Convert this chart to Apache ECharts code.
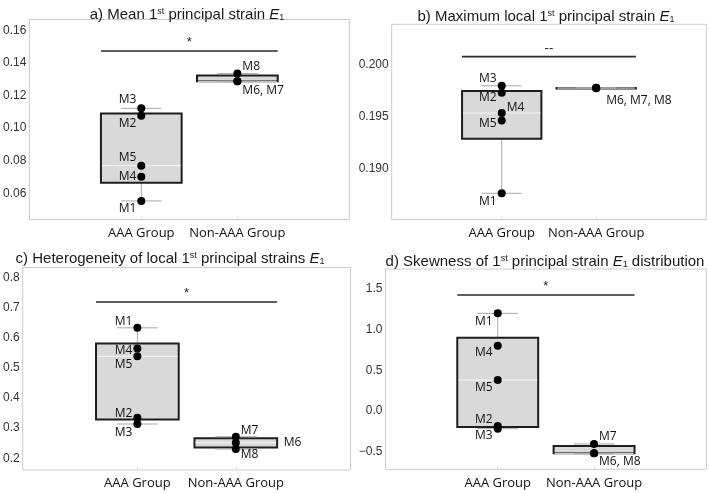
<!DOCTYPE html>
<html><head><meta charset="utf-8">
<script src="https://cdn.jsdelivr.net/npm/echarts@6/dist/echarts.min.js"></script>
<style>html,body{margin:0;padding:0;background:#fff}#c{width:709px;height:493px}</style>
</head><body><div id="c"></div>
<script>
// ---------- data ----------
const groups = ['AAA Group', 'Non-AAA Group'];
const modelsAAA = ['M1', 'M2', 'M3', 'M4', 'M5'];
const modelsNon = ['M6', 'M7', 'M8'];

// a) Mean 1st principal strain
const aAAA = [0.0553, 0.1076, 0.1121, 0.0702, 0.0769];
const aNon = [0.1287, 0.1287, 0.1334];
const aBoxAAA = [0.0553, 0.0665, 0.0769, 0.1089, 0.1121];   // min, Q1, median, Q3, max
const aBoxNon = [0.1287, 0.1287, 0.1287, 0.1322, 0.1334];
const aSig = 0.1473, aSigText = '*';
const aTicks = [0.06, 0.08, 0.10, 0.12, 0.14, 0.16];

// b) Maximum local 1st principal strain
const bAAA = [0.18766, 0.19734, 0.1980, 0.19538, 0.19465];
const bNon = [0.19776, 0.19778, 0.19780];
const bBoxAAA = [0.18766, 0.1929, 0.19538, 0.1975, 0.1980];
const bBoxNon = [0.19776, 0.19777, 0.19778, 0.19779, 0.19780];
const bSig = 0.2008, bSigText = '--';
const bTicks = [0.190, 0.195, 0.200];

// c) Heterogeneity of local 1st principal strains
const cAAA = [0.633, 0.3347, 0.3138, 0.564, 0.5385];
const cNon = [0.2517, 0.2716, 0.2308];
const cBoxAAA = [0.3138, 0.329, 0.5385, 0.581, 0.633];
const cBoxNon = [0.2308, 0.2360, 0.2517, 0.2666, 0.2716];
const cSig = 0.7187, cSigText = '*';
const cTicks = [0.2, 0.3, 0.4, 0.5, 0.6, 0.7, 0.8];

// d) Skewness of 1st principal strain distribution
const dAAA = [1.201, -0.184, -0.217, 0.803, 0.381];
const dNon = [-0.520, -0.405, -0.520];
const dBoxAAA = [-0.217, -0.197, 0.381, 0.902, 1.201];
const dBoxNon = [-0.520, -0.520, -0.520, -0.430, -0.405];
const dSig = 1.426, dSigText = '*';
const dTicks = [-0.5, 0.0, 0.5, 1.0, 1.5];

// ---------- label placement (style only) ----------
// [text, side, dx, dy]
const aLabAAA = [['M1','left',0,8],['M2','left',0,8],['M3','left',0,-9],['M4','left',0,0],['M5','left',0,-8]];
const aLabNon = [['M6, M7','right',0,9],['','right',0,0],['M8','right',0,-7]];
const bLabAAA = [['M1','left',0,8],['M2','left',0,5],['M3','left',0,-7],['M4','right',0,-5],['M5','left',0,3]];
const bLabNon = [['M6, M7, M8','right',5,12],['','right',0,0],['','right',0,0]];
const cLabAAA = [['M1','left',0,-6],['M2','left',0,-4],['M3','left',0,9],['M4','left',0,2],['M5','left',0,8]];
const cLabNon = [['M6','right',43,0],['M7','right',0,-6],['M8','right',0,6]];
const dLabAAA = [['M1','left',0,8],['M2','left',0,-6],['M3','left',0,7],['M4','left',0,7],['M5','left',0,8]];
const dLabNon = [['M6, M8','right',0,8],['M7','right',0,-7],['','right',0,0]];

// ---------- layout ----------
const SANS = '"Liberation Sans", Arial, sans-serif';
const OPEN = '"Open Sans", "Noto Sans", sans-serif';
const panels = [
  { title: 'a) Mean 1{sup|st} principal strain {it|E}{sub|1}', tx: 182, ty: 2,
    grid: {left: 25.7, top: 19.5, width: 323.6, height: 200},
    ymin: 0.0439, ymax: 0.1666, ticks: aTicks, dec: 2,
    AAA: aAAA, Non: aNon, boxA: aBoxAAA, boxN: aBoxNon, sig: aSig, sigText: aSigText, labA: aLabAAA, labN: aLabNon },
  { title: 'b) Maximum local 1{sup|st} principal strain {it|E}{sub|1}', tx: 541, ty: 4,
    grid: {left: 391.7, top: 24.3, width: 314.5, height: 195.2},
    ymin: 0.18514, ymax: 0.20391, ticks: bTicks, dec: 3,
    AAA: bAAA, Non: bNon, boxA: bBoxAAA, boxN: bBoxNon, sig: bSig, sigText: bSigText, labA: bLabAAA, labN: bLabNon },
  { title: 'c) Heterogeneity of local 1{sup|st} principal strains {it|E}{sub|1}', tx: 165, ty: 246,
    grid: {left: 22, top: 267.5, width: 328.5, height: 202.5},
    ymin: 0.1612, ymax: 0.8332, ticks: cTicks, dec: 1,
    AAA: cAAA, Non: cNon, boxA: cBoxAAA, boxN: cBoxNon, sig: cSig, sigText: cSigText, labA: cLabAAA, labN: cLabNon },
  { title: 'd) Skewness of 1{sup|st} principal strain {it|E}{sub|1} distribution', tx: 540, ty: 249,
    grid: {left: 385.5, top: 269, width: 320.8, height: 200.3},
    ymin: -0.7163, ymax: 1.746, ticks: dTicks, dec: 1,
    AAA: dAAA, Non: dNon, boxA: dBoxAAA, boxN: dBoxNon, sig: dSig, sigText: dSigText, labA: dLabAAA, labN: dLabNon }
];

const HW = 0.42, CW = 0.21;
function renderBox(params, api) {
  const x = api.value(0);
  const mn = api.value(1), q1 = api.value(2), md = api.value(3), q3 = api.value(4), mx = api.value(5);
  const tl = api.coord([x - HW, q3]), br = api.coord([x + HW, q1]);
  const pMax = api.coord([x, mx]), pMin = api.coord([x, mn]);
  const pQ3 = api.coord([x, q3]), pQ1 = api.coord([x, q1]);
  const pMed = api.coord([x, md]);
  const cl = api.coord([x - CW, mx])[0], cr = api.coord([x + CW, mx])[0];
  const grey = {stroke: '#a8a8a8', lineWidth: 1};
  return {type: 'group', children: [
    {type: 'line', shape: {x1: pMax[0], y1: pMax[1], x2: pQ3[0], y2: pQ3[1]}, style: grey},
    {type: 'line', shape: {x1: pQ1[0], y1: pQ1[1], x2: pMin[0], y2: pMin[1]}, style: grey},
    {type: 'rect', shape: {x: tl[0], y: tl[1], width: br[0] - tl[0], height: Math.max(br[1] - tl[1], 0.5)},
      style: {fill: '#d9d9d9', stroke: '#1e1e1e', lineWidth: 2}},
    {type: 'line', shape: {x1: tl[0] + 1, y1: pMed[1], x2: br[0] - 1, y2: pMed[1]}, style: {stroke: '#f6f6f6', lineWidth: 1}},
    {type: 'line', shape: {x1: cl, y1: pMax[1], x2: cr, y2: pMax[1]}, style: grey},
    {type: 'line', shape: {x1: cl, y1: pMin[1], x2: cr, y2: pMin[1]}, style: grey}
  ]};
}
const sigTexts = {};
function renderSig(params, api) {
  const p1 = api.coord([api.value(0), api.value(2)]);
  const p2 = api.coord([api.value(1), api.value(2)]);
  const txt = sigTexts[params.seriesIndex] || '';
  return {type: 'group', children: [
    {type: 'line', shape: {x1: p1[0], y1: p1[1], x2: p2[0], y2: p2[1]}, style: {stroke: '#2a2a2a', lineWidth: 1.6}},
    {type: 'text', style: {text: txt, x: (p1[0] + p2[0]) / 2, y: p1[1] - 2, textAlign: 'center', textVerticalAlign: 'bottom',
      font: '13px ' + SANS, fill: '#222'}}
  ]};
}

const option = {animation: false, backgroundColor: '#fff', title: [], grid: [], xAxis: [], yAxis: [], series: []};
panels.forEach((p, i) => {
  option.title.push({
    text: p.title, left: p.tx, top: p.ty, textAlign: 'center',
    textStyle: {fontFamily: SANS, fontSize: 15, fontWeight: 'normal', color: '#1a1a1a',
      rich: {
        sup: {fontFamily: SANS, fontSize: 9, verticalAlign: 'top', color: '#1a1a1a'},
        it: {fontFamily: SANS, fontSize: 15, fontStyle: 'italic', color: '#1a1a1a'},
        sub: {fontFamily: SANS, fontSize: 9, verticalAlign: 'bottom', color: '#1a1a1a'}
      }}
  });
  option.grid.push(Object.assign({show: true, borderColor: '#cccccc', borderWidth: 1, backgroundColor: 'transparent'}, p.grid));
  option.xAxis.push({
    gridIndex: i, type: 'value', min: -0.165, max: 3.165, position: 'bottom',
    axisLine: {show: false, onZero: false}, splitLine: {show: false},
    axisTick: {show: true, inside: true, length: 3, customValues: [1, 2], lineStyle: {color: '#d8d8d8'}},
    axisLabel: {customValues: [1, 2], margin: 7, formatter: v => groups[Math.round(v) - 1] || '',
      fontFamily: OPEN, fontSize: 13, color: '#111'}
  });
  option.yAxis.push({
    gridIndex: i, type: 'value', min: p.ymin, max: p.ymax,
    axisLine: {show: false, onZero: false}, splitLine: {show: false}, axisTick: {show: false},
    axisLabel: {customValues: p.ticks, margin: 3, fontFamily: SANS, fontSize: 12, color: '#333',
      formatter: v => { const s = Math.abs(v).toFixed(p.dec); return v < -1e-9 ? '\u2212' + s : s; }}
  });
  option.series.push({
    type: 'custom', xAxisIndex: i, yAxisIndex: i, renderItem: renderBox, z: 2,
    encode: {x: 0, y: [1, 2, 3, 4, 5]},
    data: [[1].concat(p.boxA), [2].concat(p.boxN)]
  });
  const pts = [];
  const mk = (x, v, lab) => {
    const item = {value: [x, v]};
    if (lab[0]) {
      item.label = {show: true, formatter: lab[0], position: lab[1], distance: 1, offset: [lab[2], lab[3]],
        color: '#111', textBorderWidth: 0, fontFamily: OPEN, fontSize: 12};
    } else item.label = {show: false};
    return item;
  };
  p.AAA.forEach((v, k) => pts.push(mk(1, v, p.labA[k])));
  p.Non.forEach((v, k) => pts.push(mk(2, v, p.labN[k])));
  option.series.push({
    type: 'scatter', xAxisIndex: i, yAxisIndex: i, symbol: 'circle', symbolSize: 8, z: 5,
    itemStyle: {color: '#000', opacity: 1},
    label: {fontFamily: OPEN, fontSize: 12, color: '#111'},
    emphasis: {disabled: true},
    data: pts
  });
  const sIdx = option.series.length;
  sigTexts[sIdx] = p.sigText;
  option.series.push({
    type: 'custom', xAxisIndex: i, yAxisIndex: i, renderItem: renderSig, z: 4,
    encode: {x: [0, 1], y: 2},
    data: [[1 - HW, 2 + HW, p.sig]]
  });
});

const chart = echarts.init(document.getElementById('c'), null, {renderer: 'canvas'});
chart.setOption(option);
</script>
</body></html>
